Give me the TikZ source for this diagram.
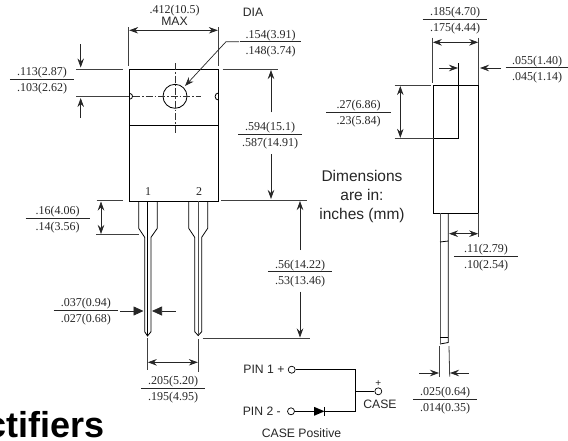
\documentclass[tikz,border=0pt]{standalone}
\usepackage{fontspec}
\setmainfont{Liberation Serif}
\setsansfont{Liberation Sans}
\usepackage{tikz}
\usetikzlibrary{%
  positioning
 ,arrows.meta
}
\tikzstyle{pkg}=[x=1pt,y=-1pt,line width=.8pt,>={Stealth[length=9pt,width=6.5pt,inset=3pt]}]
\tikzstyle{outl}=[draw=black,line width=.8pt]
\tikzstyle{ext}=[draw=black!75,line width=.8pt]
\tikzstyle{dim}=[draw=black!85,line width=.7pt]
\tikzstyle{heavy}=[dim,>={Stealth[length=10pt,width=9pt,inset=0pt]}]
\tikzstyle{ctr}=[draw=black!80,line width=.7pt,dash pattern=on 7pt off 2pt on 1.5pt off 2pt]
\tikzstyle{num}=[font=\fontsize{12}{12}\selectfont,inner sep=0pt,text=black!85]
\tikzstyle{lab}=[font=\fontsize{12.2}{12.2}\selectfont\sffamily,inner sep=0pt,text=black!85]
\tikzstyle{pin}=[circle,draw=black,fill=white,line width=.7pt,inner sep=0pt,minimum size=7pt]
% name, x, y, width of rule, upper and lower value
\newcommand{\dimfrac}[6]{%
  \node[inner sep=0pt,minimum width=#4pt,minimum height=0pt] (#1) at (#2,#3) {};
  \draw[dim] (#1.west) -- (#1.east);
  \node[num,above=0pt of #1] (#1_up) {#5};
  \node[num,below=3.5pt of #1]   (#1_lo) {#6};
}

\begin{document}
\begin{tikzpicture}[pkg]
  \useasboundingbox (0,0) rectangle (568,440);
% front view
  \node[outl,rectangle,minimum width=88.6pt,minimum height=132pt,inner sep=0pt] (body) at (174,135) {};
  \draw[outl] (130,125.3) -- (218.3,125.3);
  \node[circle,draw=black,line width=.8pt,minimum size=24pt,inner sep=0pt] (hole) at (175,96.3) {};
  \draw[ctr] (133,96.3) -- (201,96.3);
  \draw[ctr] (175,63) -- (175,133);
  \draw[outl] (130,93.5) arc (90:-90:2.5pt and 2.8pt);
  \draw[outl] (218.3,93) arc (90:270:3.2pt and 3.5pt);
  \node[num] (pin_1) at (148,192) {1};
  \node[num] (pin_2) at (199,192) {2};
% leads
  \draw[outl] (138.7,201) -- (138.7,228.3) -- (144.7,237.3) -- (144.7,331.7) -- (147.5,336)
              -- (151,331.7) -- (151,237.3) -- (157.3,228.3) -- (157.3,201);
  \draw[outl] (147.5,201) -- (147.5,336);
  \draw[outl] (188.7,201) -- (188.7,228.3) -- (194.7,237.3) -- (194.7,331.7) -- (198.2,335.5)
              -- (201.7,331.7) -- (201.7,237.3) -- (207.7,228.3) -- (207.7,201);
  \draw[outl,draw=black!70] (198.2,201) -- (198.2,335);
% side view
  \node[outl,rectangle,minimum width=45pt,minimum height=128pt,inner sep=0pt] (side) at (456.2,149.3) {};
  \draw[outl] (433.7,138.3) -- (458.7,138.3) -- (458.7,62.7);
  \draw[outl] (448.3,213.3) -- (448.3,342.5) -- (440,344);
  \draw[draw=black!65,line width=1.6pt] (440.3,213.3) -- (440.3,344);
  \draw[outl] (440,242) -- (448.3,241);
  \draw[outl] (440,337.3) -- (448.3,337.3);
% top width
  \draw[ext] (128.7,27) -- (128.7,65.7);
  \draw[ext] (218.3,27) -- (218.3,65.7);
  \draw[dim,<->] (129.2,30.3) -- (217.8,30.3);
  \node[num] (w_top) at (174.5,10.7) {.412(10.5)};
  \node[lab,below=.5pt of w_top] (w_max) {MAX};
  \node[lab] (dia) at (253,12.7) {DIA};
% hole diameter
  \dimfrac{hole_d}{270.7}{41.7}{60.3}{.154(3.91)}{.148(3.74)}
  \draw[dim,->] (239,41.7) -- (226,41.7) -- (185,86);
% hole height
  \dimfrac{hole_h}{42}{79.3}{63.4}{.113(2.87)}{.103(2.62)}
  \draw[ext] (76.3,69) -- (123.3,69);
  \draw[ext] (76.3,96.3) -- (129.3,96.3);
  \draw[dim,->] (80.7,44) -- (80.7,67.5);
  \draw[dim,->] (80.7,118) -- (80.7,98);
% body height
  \dimfrac{body_h}{270}{134}{62.3}{.594(15.1)}{.587(14.91)}
  \draw[ext] (222.7,69) -- (277.7,69);
  \draw[ext] (221,200) -- (306.7,200);
  \draw[dim,->] (271,112.3) -- (271,70);
  \draw[dim,->] (271,154) -- (271,199);
% shoulder of lead
  \dimfrac{lead_s}{57.7}{218}{63.3}{.16(4.06)}{.14(3.56)}
  \draw[ext] (96.7,200.7) -- (123.3,200.7);
  \draw[ext] (96,234.7) -- (138.7,234.7);
  \draw[dim,<->] (101,201.5) -- (101,234);
% lead width
  \dimfrac{lead_w}{85.8}{310.3}{63.7}{.037(0.94)}{.027(0.68)}
  \draw[heavy,->] (120,311) -- (143.5,311);
  \draw[heavy,->] (175.7,311) -- (152,311);
% pitch
  \dimfrac{pitch}{173}{388.3}{63.4}{.205(5.20)}{.195(4.95)}
  \draw[ext] (147.3,338.3) -- (147.3,370);
  \draw[ext] (198.3,339.3) -- (198.3,372);
  \draw[dim,<->] (147.8,362.3) -- (197.8,362.3);
% lead length
  \dimfrac{lead_l}{300}{271.7}{63.4}{.56(14.22)}{.53(13.46)}
  \draw[ext] (202.7,338.3) -- (310,338.3);
  \draw[dim,->] (300,250) -- (300,201);
  \draw[dim,->] (300,291.7) -- (300,337.5);
% side dimensions
  \dimfrac{side_t}{455}{19.3}{64}{.185(4.70)}{.175(4.44)}
  \draw[ext] (432.3,37.7) -- (432.3,82.7);
  \draw[ext] (478.7,37.7) -- (478.7,85);
  \draw[dim,<->] (432.8,42.3) -- (478.2,42.3);
  \dimfrac{tab_t}{537}{67.7}{62}{.055(1.40)}{.045(1.14)}
  \draw[dim,->] (439,68) -- (458,68);
  \draw[dim,->] (501,68) -- (480,68);
  \dimfrac{tab_h}{358.7}{112}{64}{.27(6.86)}{.23(5.84)}
  \draw[ext] (394.7,85.3) -- (430.7,85.3);
  \draw[ext] (394.7,138.3) -- (433.7,138.3);
  \draw[dim,<->] (400.3,86) -- (400.3,137.8);
  \dimfrac{off_l}{486}{256.3}{63.7}{.11(2.79)}{.10(2.54)}
  \draw[ext] (478.7,213.3) -- (478.7,236.7);
  \draw[dim,<->] (449,233.7) -- (478.2,233.7);
  \dimfrac{lead_t}{445}{399.3}{63.4}{.025(0.64)}{.014(0.35)}
  \draw[ext] (439.7,346) -- (439.7,376.7);
  \draw[ext] (449,346) -- (449.7,376.7);
  \draw[dim,->] (419,373) -- (439,373);
  \draw[dim,->] (468.7,373) -- (450,373);
% note
  \node[font=\fontsize{15.5}{19}\selectfont\sffamily,align=center,inner sep=0pt,text=black!85] (note) at (362,196) {Dimensions\\are in:\\inches (mm)};
% circuit
  \node[pin] (pin_p) at (291.7,369.7) {};
  \node[pin] (pin_n) at (291,411.3) {};
  \node[pin] (pin_c) at (378.3,391.3) {};
  \node[lab,left=3pt of pin_p] (lab_p) {PIN 1 +};
  \node[lab,left=6pt of pin_n] (lab_n) {PIN 2 -};
  \node[lab,font=\fontsize{10}{10}\selectfont\sffamily,above=1pt of pin_c] (lab_c) {+};
  \node[lab] (lab_case) at (380,404.3) {CASE};
  \node[lab] (lab_pos) at (301.5,432.7) {CASE Positive};
  \coordinate (d_in) at (314,411.3);
  \coordinate (d_out) at (324.5,411.3);
  \coordinate (j_p) at (355.3,369.7);
  \coordinate (j_n) at (355.3,411.3);
  \coordinate (j_c) at (355.3,391.3);
  \draw[outl] (pin_p) -- (j_p) -- (j_n) -- (d_out);
  \draw[outl] (pin_n) -- (d_in);
  \draw[outl] (j_c) -- (pin_c);
  \fill[black] (314,406.8) -- (324.5,411.3) -- (314,415.8) -- cycle;
  \draw[outl] (324.5,406.8) -- (324.5,415.8);
% cropped title
  \node[font=\fontsize{36}{36}\selectfont\sffamily\bfseries,inner sep=0pt,anchor=base east] (title) at (105,437) {ctifiers};
\end{tikzpicture}
\end{document}
